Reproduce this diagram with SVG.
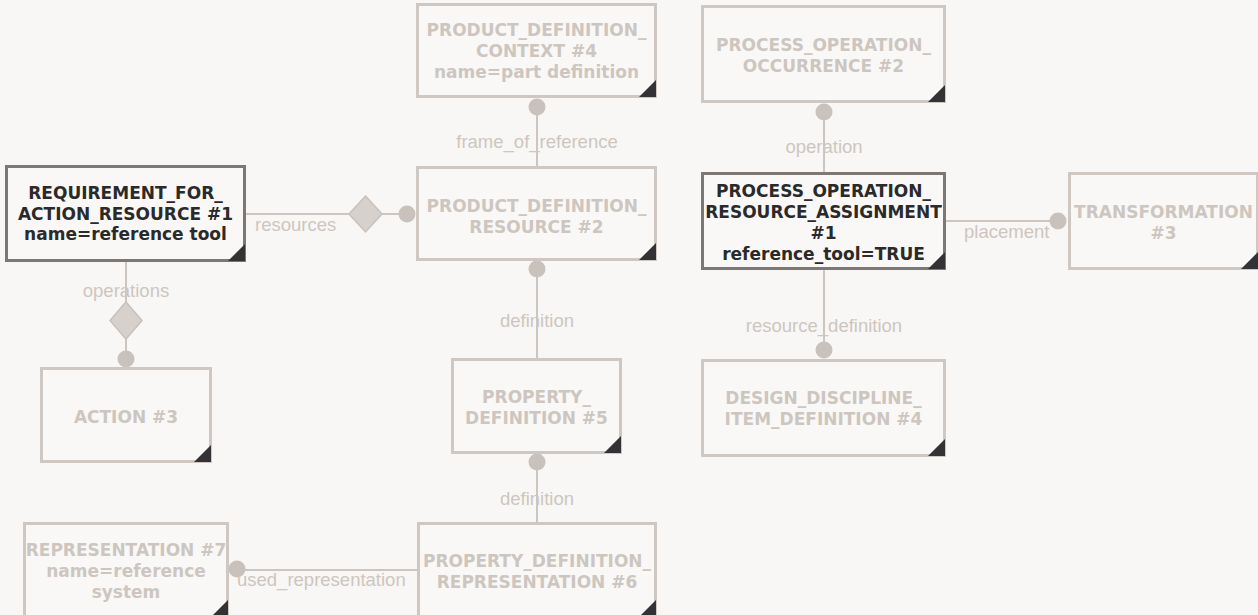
<svg xmlns="http://www.w3.org/2000/svg" width="1258" height="615" viewBox="0 0 1258 615">
<style>
.bg{fill:#f8f7f5}
.box{fill:#f9f8f6;stroke:#cfc8c2;stroke-width:3}
.box.act{stroke:#7e7874}
.tri{fill:#333235}
.nt{font-family:"DejaVu Sans","Liberation Sans",sans-serif;font-weight:bold;font-size:17px;fill:#cdc6c0;text-anchor:middle}
.nt.act{fill:#2b2a2a}
.ln{stroke:#cdc6c0;stroke-width:2;fill:none}
.dot{fill:#c9c1bb}
.dia{fill:#d6d1cd;stroke:#c9c1bb;stroke-width:1.5}
.lb{font-family:"Liberation Sans",Arial,sans-serif;font-size:18.5px;fill:#cdc6c0}
.mid{text-anchor:middle}
</style>
<rect class="bg" x="0" y="0" width="1258" height="615"/>
<g id="connectors">
<line class="ln" x1="246" y1="214" x2="349" y2="214"/>
<line class="ln" x1="382" y1="214" x2="407" y2="214"/>
<polygon class="dia" points="365.5,196 382,214 365.5,232 349,214"/>
<circle class="dot" cx="407" cy="214" r="8.5"/>
<text class="lb" x="255" y="231">resources</text>
<line class="ln" x1="126" y1="262" x2="126" y2="302"/>
<line class="ln" x1="126" y1="339" x2="126" y2="359"/>
<polygon class="dia" points="126,302 142,320.5 126,339 110,320.5"/>
<circle class="dot" cx="126" cy="359" r="8.5"/>
<text class="lb mid" x="126" y="297">operations</text>
<line class="ln" x1="537" y1="166" x2="537" y2="107"/>
<circle class="dot" cx="537" cy="107" r="8.5"/>
<text class="lb mid" x="537" y="148">frame_of_reference</text>
<line class="ln" x1="537" y1="358" x2="537" y2="269"/>
<circle class="dot" cx="537" cy="269" r="8.5"/>
<text class="lb mid" x="537" y="327">definition</text>
<line class="ln" x1="537" y1="522" x2="537" y2="462"/>
<circle class="dot" cx="537" cy="462" r="8.5"/>
<text class="lb mid" x="537" y="505">definition</text>
<line class="ln" x1="417" y1="570" x2="237" y2="570"/>
<circle class="dot" cx="237" cy="569" r="8.5"/>
<text class="lb" x="237" y="586">used_representation</text>
<line class="ln" x1="824" y1="172" x2="824" y2="112"/>
<circle class="dot" cx="824" cy="112" r="8.5"/>
<text class="lb mid" x="824" y="153">operation</text>
<line class="ln" x1="946" y1="221" x2="1058" y2="221"/>
<circle class="dot" cx="1058" cy="221" r="8.5"/>
<text class="lb" x="964" y="238">placement</text>
<line class="ln" x1="824" y1="270" x2="824" y2="350"/>
<circle class="dot" cx="824" cy="350" r="8.5"/>
<text class="lb mid" x="824" y="332">resource_definition</text>
</g>
<g id="n1">
<rect class="box act" x="6.5" y="166.5" width="238" height="94"/>
<polygon class="tri" points="245,244 245,261 228,261"/>
<text class="nt act" x="125.5" y="199">REQUIREMENT_FOR_</text>
<text class="nt act" x="125.5" y="220">ACTION_RESOURCE #1</text>
<text class="nt act" x="125.5" y="240">name=reference tool</text>
</g>
<g id="n2">
<rect class="box" x="417.5" y="4.5" width="238" height="92"/>
<polygon class="tri" points="656,80 656,97 639,97"/>
<text class="nt" x="536.5" y="36">PRODUCT_DEFINITION_</text>
<text class="nt" x="536.5" y="57">CONTEXT #4</text>
<text class="nt" x="536.5" y="78">name=part definition</text>
</g>
<g id="n3">
<rect class="box" x="417.5" y="167.5" width="238" height="92"/>
<polygon class="tri" points="656,243 656,260 639,260"/>
<text class="nt" x="536.5" y="212">PRODUCT_DEFINITION_</text>
<text class="nt" x="536.5" y="233">RESOURCE #2</text>
</g>
<g id="n4">
<rect class="box" x="702.5" y="6.5" width="242" height="95"/>
<polygon class="tri" points="945,85 945,102 928,102"/>
<text class="nt" x="823.5" y="51">PROCESS_OPERATION_</text>
<text class="nt" x="823.5" y="72">OCCURRENCE #2</text>
</g>
<g id="n5">
<rect class="box act" x="702.5" y="173.5" width="242" height="95"/>
<polygon class="tri" points="945,252 945,269 928,269"/>
<text class="nt act" x="823.5" y="197">PROCESS_OPERATION_</text>
<text class="nt act" x="823.5" y="218">RESOURCE_ASSIGNMENT</text>
<text class="nt act" x="823.5" y="239">#1</text>
<text class="nt act" x="823.5" y="260">reference_tool=TRUE</text>
</g>
<g id="n6">
<rect class="box" x="1069.5" y="173.5" width="188" height="95"/>
<polygon class="tri" points="1258,252 1258,269 1241,269"/>
<text class="nt" x="1163.5" y="218">TRANSFORMATION</text>
<text class="nt" x="1163.5" y="239">#3</text>
</g>
<g id="n7">
<rect class="box" x="41.5" y="368.5" width="169" height="93"/>
<polygon class="tri" points="211,445 211,462 194,462"/>
<text class="nt" x="126" y="423">ACTION #3</text>
</g>
<g id="n8">
<rect class="box" x="452.5" y="359.5" width="168" height="93"/>
<polygon class="tri" points="621,436 621,453 604,453"/>
<text class="nt" x="536.5" y="403">PROPERTY_</text>
<text class="nt" x="536.5" y="424">DEFINITION #5</text>
</g>
<g id="n9">
<rect class="box" x="702.5" y="360.5" width="242" height="95"/>
<polygon class="tri" points="945,439 945,456 928,456"/>
<text class="nt" x="823.5" y="404">DESIGN_DISCIPLINE_</text>
<text class="nt" x="823.5" y="425">ITEM_DEFINITION #4</text>
</g>
<g id="n10">
<rect class="box" x="24.5" y="523.5" width="203" height="93"/>
<polygon class="tri" points="228,600 228,617 211,617"/>
<text class="nt" x="126" y="556">REPRESENTATION #7</text>
<text class="nt" x="126" y="577">name=reference</text>
<text class="nt" x="126" y="598">system</text>
</g>
<g id="n11">
<rect class="box" x="418.5" y="523.5" width="237" height="93"/>
<polygon class="tri" points="656,600 656,617 639,617"/>
<text class="nt" x="537" y="567">PROPERTY_DEFINITION_</text>
<text class="nt" x="537" y="588">REPRESENTATION #6</text>
</g>
</svg>
